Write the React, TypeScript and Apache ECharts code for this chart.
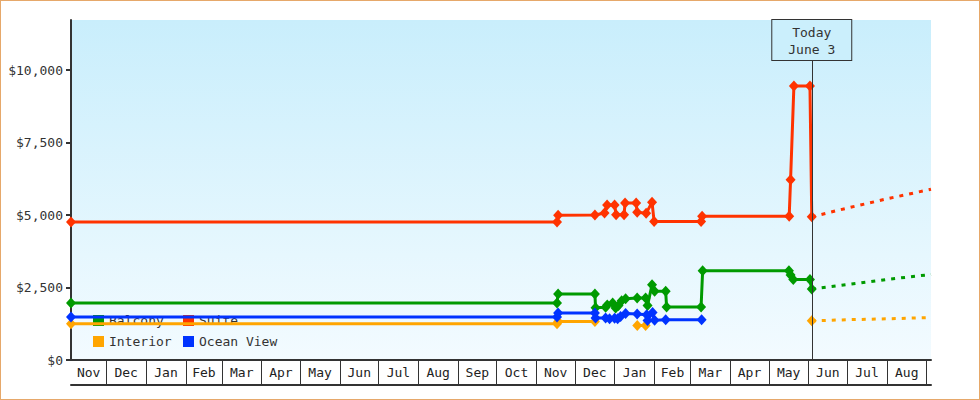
import React, { useEffect, useRef } from 'react';
import * as echarts from 'echarts';

// ---------- data ----------
const AXIS_MIN = '2021-11-03T12:00';
const AXIS_MAX = '2023-09-04T09:00';
const TODAY = '2023-06-03T12:00';
const TODAY_LABEL = 'Today\nJune 3';

const MONTH_BOUNDARIES = [
  '2021-12-01', '2022-01-01', '2022-02-01', '2022-03-01', '2022-04-01', '2022-05-01',
  '2022-06-01', '2022-07-01', '2022-08-01', '2022-09-01', '2022-10-01', '2022-11-01',
  '2022-12-01', '2023-01-01', '2023-02-01', '2023-03-01', '2023-04-01', '2023-05-01',
  '2023-06-01', '2023-07-01', '2023-08-01', '2023-09-01',
];
const MONTH_LABELS = [
  'Nov', 'Dec', 'Jan', 'Feb', 'Mar', 'Apr', 'May', 'Jun', 'Jul', 'Aug', 'Sep',
  'Oct', 'Nov', 'Dec', 'Jan', 'Feb', 'Mar', 'Apr', 'May', 'Jun', 'Jul', 'Aug',
];

const Y_TICKS = [0, 2500, 5000, 7500, 10000];
const Y_MAX = 11730;

const SERIES_NAMES = ['Balcony', 'Suite', 'Interior', 'Ocean View'];
const SERIES_COLORS = ['#009a00', '#ff3300', '#ffa500', '#0033ff'];

const BALCONY: [string, number | null][] = [
  ['2021-11-03T12:00', 1970],
  ['2022-11-17T02:00', 1970],
  ['2022-11-17T22:00', 2280],
  ['2022-12-16T14:00', 2280],
  ['2022-12-17T02:00', 1800],
  ['2022-12-24T22:00', 1820],
  ['2022-12-26T05:00', 1900],
  ['2022-12-30T10:00', 1970],
  ['2023-01-01T17:00', 1790],
  ['2023-01-04T00:00', 1880],
  ['2023-01-06T10:00', 2040],
  ['2023-01-09T12:00', 2110],
  ['2023-01-18T12:00', 2140],
  ['2023-01-25T02:00', 2140],
  ['2023-01-26T14:00', 1880],
  ['2023-01-30T02:00', 2600],
  ['2023-02-01T02:00', 2370],
  ['2023-02-09T17:00', 2370],
  ['2023-02-10T10:00', 1830],
  ['2023-03-09T07:00', 1830],
  ['2023-03-10T12:00', 3080],
  ['2023-05-16T17:00', 3080],
  ['2023-05-18T00:00', 2930],
  ['2023-05-20T02:00', 2780],
  ['2023-06-02T02:00', 2780],
  ['2023-06-03T12:00', 2450],
];

const SUITE: [string, number | null][] = [
  ['2021-11-03T12:00', 4760],
  ['2022-11-17T02:00', 4760],
  ['2022-11-17T22:00', 4990],
  ['2022-12-16T14:00', 5000],
  ['2022-12-24T02:00', 5070],
  ['2022-12-26T02:00', 5350],
  ['2022-12-31T22:00', 5350],
  ['2023-01-02T02:00', 5010],
  ['2023-01-08T07:00', 5010],
  ['2023-01-09T02:00', 5420],
  ['2023-01-17T17:00', 5420],
  ['2023-01-18T12:00', 5100],
  ['2023-01-25T12:00', 5060],
  ['2023-01-30T02:00', 5440],
  ['2023-01-31T17:00', 4780],
  ['2023-03-09T07:00', 4780],
  ['2023-03-10T02:00', 4960],
  ['2023-05-16T22:00', 4960],
  ['2023-05-18T00:00', 6220],
  ['2023-05-20T14:00', 9450],
  ['2023-06-02T02:00', 9450],
  ['2023-06-03T12:00', 4940],
];

const INTERIOR: [string, number | null][] = [
  ['2021-11-03T12:00', 1250],
  ['2022-11-17T02:00', 1250],
  ['2022-11-17T22:00', 1330],
  ['2022-12-16T14:00', 1330],
  ['2022-12-30T00:00', null],
  ['2023-01-18T14:00', 1190],
  ['2023-01-25T02:00', 1190],
  ['2023-04-01T00:00', null],
  ['2023-06-03T12:00', 1350],
];

const OCEAN_VIEW: [string, number | null][] = [
  ['2021-11-03T12:00', 1480],
  ['2022-11-17T02:00', 1480],
  ['2022-11-17T22:00', 1620],
  ['2022-12-16T14:00', 1620],
  ['2022-12-17T02:00', 1450],
  ['2022-12-24T22:00', 1450],
  ['2022-12-28T00:00', 1420],
  ['2022-12-31T22:00', 1440],
  ['2023-01-03T07:00', 1420],
  ['2023-01-05T14:00', 1500],
  ['2023-01-09T12:00', 1600],
  ['2023-01-18T12:00', 1590],
  ['2023-01-25T22:00', 1560],
  ['2023-01-26T14:00', 1360],
  ['2023-01-30T12:00', 1640],
  ['2023-02-01T02:00', 1370],
  ['2023-02-09T17:00', 1390],
  ['2023-03-09T17:00', 1390],
];

const BALCONY_FORECAST: [string, number][] = [
  ['2023-06-03T12:00', 2450],
  ['2023-07-01T00:00', 2600],
  ['2023-08-01T00:00', 2780],
  ['2023-09-04T09:00', 2950],
];
const SUITE_FORECAST: [string, number][] = [
  ['2023-06-03T12:00', 4940],
  ['2023-07-01T00:00', 5240],
  ['2023-08-01T00:00', 5560],
  ['2023-09-04T09:00', 5890],
];
const INTERIOR_FORECAST: [string, number][] = [
  ['2023-06-03T12:00', 1350],
  ['2023-07-01T00:00', 1390],
  ['2023-08-01T00:00', 1420],
  ['2023-09-04T09:00', 1465],
];

// ---------- helpers ----------
const FONT = 'DejaVu Sans Mono';
const INK = '#333333';

function toTs(s: string): number {
  const [d, t] = s.split('T');
  const [y, m, day] = d.split('-').map(Number);
  const [hh, mm] = (t || '00:00').split(':').map(Number);
  return new Date(y, m - 1, day, hh || 0, mm || 0).getTime();
}

function toSeries(rows: [string, number | null][]) {
  return rows.map(([d, v]) => [toTs(d), v == null ? '-' : v]);
}

export default function App() {
  const ref = useRef<HTMLDivElement>(null);

  useEffect(() => {
    if (!ref.current) return;
    const chart = echarts.init(ref.current, undefined, { renderer: 'svg' });

    const minTs = toTs(AXIS_MIN);
    const maxTs = toTs(AXIS_MAX);
    const boundaries = MONTH_BOUNDARIES.map(toTs);
    const mids = boundaries.map((b, i) => ((i === 0 ? minTs : boundaries[i - 1]) + b) / 2);

    const monthName = (v: number) => {
      let best = 0;
      let bd = Infinity;
      mids.forEach((m, i) => {
        const dd = Math.abs(m - v);
        if (dd < bd) {
          bd = dd;
          best = i;
        }
      });
      return MONTH_LABELS[best];
    };

    const mainSeries = (idx: number, rows: [string, number | null][], extra: any = {}) => ({
      name: SERIES_NAMES[idx],
      type: 'line',
      data: toSeries(rows),
      symbol: 'diamond',
      symbolSize: [10, 11],
      showSymbol: true,
      connectNulls: false,
      z: 3,
      lineStyle: { width: 3, color: SERIES_COLORS[idx] },
      itemStyle: { color: SERIES_COLORS[idx] },
      emphasis: { disabled: true },
      ...extra,
    });

    const forecastSeries = (idx: number, rows: [string, number][]) => ({
      name: SERIES_NAMES[idx],
      type: 'line',
      data: toSeries(rows),
      symbol: 'none',
      showSymbol: false,
      z: 3,
      lineStyle: { width: 3, color: SERIES_COLORS[idx], type: [4, 6] },
      itemStyle: { color: SERIES_COLORS[idx] },
      emphasis: { disabled: true },
    });

    const legendCommon = {
      orient: 'vertical',
      top: 314,
      padding: 0,
      itemWidth: 11,
      itemHeight: 11,
      itemGap: 8,
      icon: 'rect',
      z: 1,
      selectedMode: false,
      textStyle: { fontFamily: FONT, fontSize: 13, color: INK },
    };

    chart.setOption({
      animation: false,
      backgroundColor: '#ffffff',
      textStyle: { fontFamily: FONT },
      grid: {
        left: 71,
        right: 49,
        top: 20,
        bottom: 40,
        show: true,
        borderWidth: 0,
        backgroundColor: new echarts.graphic.LinearGradient(0, 0, 0, 1, [
          { offset: 0, color: '#c9eefc' },
          { offset: 1, color: '#f3fbff' },
        ]),
      },
      legend: [
        { ...legendCommon, left: 93, data: [SERIES_NAMES[0], SERIES_NAMES[2]] },
        { ...legendCommon, left: 183, data: [SERIES_NAMES[1], SERIES_NAMES[3]] },
      ],
      xAxis: [
        {
          type: 'value',
          min: minTs,
          max: maxTs,
          axisLine: { show: true, lineStyle: { color: INK, width: 2 } },
          axisTick: {
            show: true,
            inside: false,
            length: 25,
            customValues: boundaries,
            lineStyle: { color: INK, width: 1 },
          },
          axisLabel: {
            show: true,
            customValues: mids,
            formatter: (v: number) => monthName(v),
            fontFamily: FONT,
            fontSize: 13,
            color: '#222222',
            margin: 6,
          },
          splitLine: { show: false },
        },
        {
          type: 'value',
          min: minTs,
          max: maxTs,
          position: 'bottom',
          offset: 25,
          axisLine: { show: true, lineStyle: { color: INK, width: 2 } },
          axisTick: { show: false },
          axisLabel: { show: false },
          splitLine: { show: false },
        },
      ],
      yAxis: {
        type: 'value',
        min: 0,
        max: Y_MAX,
        axisLine: { show: true, lineStyle: { color: INK, width: 2 } },
        axisTick: { show: true, length: 5, customValues: Y_TICKS, lineStyle: { color: INK, width: 2 } },
        axisLabel: {
          customValues: Y_TICKS,
          formatter: (v: number) => '$' + v.toLocaleString('en-US'),
          fontFamily: FONT,
          fontSize: 13,
          color: INK,
          margin: 8,
        },
        splitLine: { show: false },
      },
      series: [
        mainSeries(0, BALCONY),
        mainSeries(1, SUITE, {
          markLine: {
            silent: true,
            symbol: ['none', 'none'],
            animation: false,
            lineStyle: { color: INK, width: 1, type: 'solid' },
            emphasis: { disabled: true },
            data: [{ xAxis: toTs(TODAY) }],
            label: {
              show: true,
              position: 'end',
              distance: -40,
              formatter: TODAY_LABEL,
              fontFamily: FONT,
              fontSize: 13,
              lineHeight: 17,
              color: INK,
              align: 'center',
              backgroundColor: '#cbeffc',
              borderColor: INK,
              borderWidth: 1,
              padding: [4, 16, 2, 16],
            },
          },
        }),
        mainSeries(2, INTERIOR),
        mainSeries(3, OCEAN_VIEW),
        forecastSeries(0, BALCONY_FORECAST),
        forecastSeries(1, SUITE_FORECAST),
        forecastSeries(2, INTERIOR_FORECAST),
      ],
    });

    return () => chart.dispose();
  }, []);

  return (
    <div style={{ position: 'absolute', left: 0, top: 0, width: 980, height: 400 }}>
      <div ref={ref} style={{ position: 'absolute', left: 0, top: 0, width: 980, height: 400 }} />
      <div
        style={{
          position: 'absolute',
          left: 0,
          top: 0,
          width: 980,
          height: 400,
          boxSizing: 'border-box',
          border: '1px solid #e6a86a',
          pointerEvents: 'none',
        }}
      />
    </div>
  );
}
